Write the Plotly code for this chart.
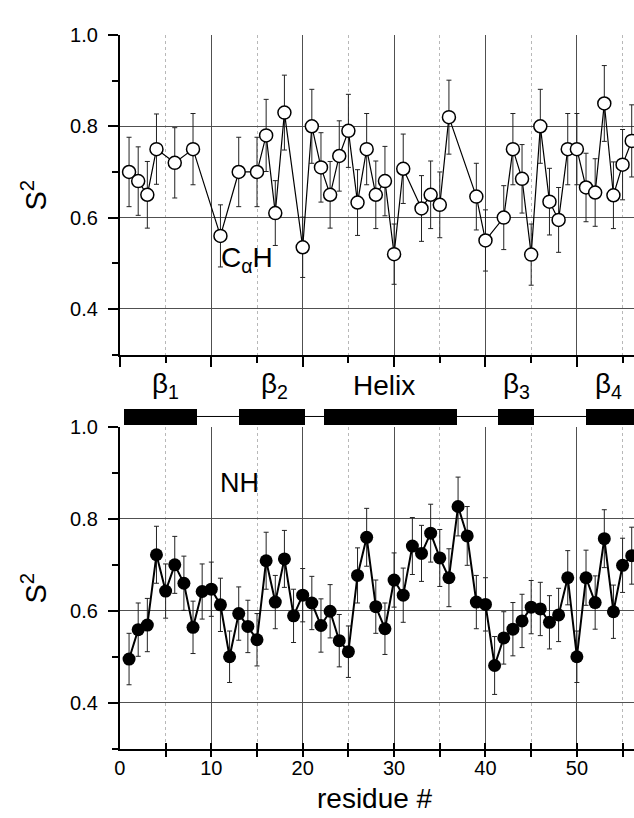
import plotly.graph_objects as go

# ---------------- data ----------------
# CαH order parameters (open circles, top panel)
res_ca = [1, 2, 3, 4, 6, 8, 11, 13, 15, 16, 17, 18, 20, 21, 22, 23, 24, 25, 26, 27,
          28, 29, 30, 31, 33, 34, 35, 36, 39, 40, 42, 43, 44, 45, 46, 47, 48, 49, 50,
          51, 52, 53, 54, 55, 56]
s2_ca = [0.70, 0.68, 0.65, 0.75, 0.72, 0.75, 0.56, 0.70, 0.70, 0.78, 0.61, 0.83,
         0.535, 0.80, 0.71, 0.65, 0.735, 0.79, 0.633, 0.75, 0.65, 0.68, 0.52, 0.707,
         0.62, 0.65, 0.628, 0.82, 0.646, 0.55, 0.60, 0.75, 0.685, 0.519, 0.80, 0.635,
         0.595, 0.75, 0.75, 0.666, 0.655, 0.85, 0.649, 0.716, 0.768]
err_ca = [0.076, 0.075, 0.073, 0.077, 0.077, 0.078, 0.068, 0.076, 0.076, 0.079, 0.071,
          0.082, 0.066, 0.081, 0.076, 0.073, 0.077, 0.080, 0.072, 0.078, 0.074, 0.076,
          0.066, 0.076, 0.072, 0.074, 0.072, 0.081, 0.073, 0.067, 0.070, 0.078, 0.075,
          0.067, 0.081, 0.073, 0.071, 0.078, 0.078, 0.075, 0.074, 0.083, 0.073, 0.077,
          0.079]

# NH order parameters (filled circles, bottom panel)
res_nh = list(range(1, 57))
s2_nh = [0.495, 0.559, 0.569, 0.722, 0.643, 0.700, 0.660, 0.564, 0.642, 0.647,
         0.613, 0.500, 0.594, 0.566, 0.537, 0.709, 0.619, 0.713, 0.589, 0.634,
         0.617, 0.568, 0.599, 0.535, 0.511, 0.677, 0.760, 0.609, 0.561, 0.667,
         0.634, 0.741, 0.725, 0.769, 0.715, 0.672, 0.827, 0.763, 0.619, 0.614,
         0.481, 0.541, 0.560, 0.578, 0.608, 0.604, 0.575, 0.591, 0.672, 0.500,
         0.672, 0.618, 0.757, 0.598, 0.699, 0.720]
err_nh = [0.056, 0.058, 0.058, 0.062, 0.059, 0.062, 0.059, 0.057, 0.060, 0.059,
          0.058, 0.056, 0.058, 0.057, 0.057, 0.062, 0.058, 0.062, 0.058, 0.058,
          0.058, 0.058, 0.058, 0.057, 0.056, 0.060, 0.063, 0.058, 0.056, 0.059,
          0.059, 0.062, 0.061, 0.063, 0.062, 0.063, 0.064, 0.064, 0.058, 0.058,
          0.063, 0.057, 0.058, 0.058, 0.058, 0.058, 0.058, 0.058, 0.059, 0.056,
          0.060, 0.058, 0.063, 0.058, 0.059, 0.062]

# secondary structure elements
ss_names = ["β<sub>1</sub>", "β<sub>2</sub>", "Helix", "β<sub>3</sub>", "β<sub>4</sub>"]
ss_start = [0.47, 13.0, 22.3, 41.4, 51.0]
ss_end = [8.42, 20.2, 36.9, 45.3, 58.0]
ss_label_pos = [5.0, 16.9, 28.9, 43.4, 53.5]

x_ticks = [0, 10, 20, 30, 40, 50]
y_ticks = [0.4, 0.6, 0.8, 1.0]

# ---------------- layout constants ----------------
W, H = 634, 818
FONT = "Liberation Sans, Arial, Helvetica, sans-serif"
x_range = [0, 56.25]
x_dom = [115 / W, 1.0]
top_dom = [1 - 348.3 / H, 1 - 24.3 / H]
bot_dom = [1 - 747.7 / H, 1 - 421.7 / H]
mid_dom = [1 - 421.7 / H, 1 - 348.3 / H]
mid_h = 421.7 - 348.3
bar_y = 421.7 - 411.0
bar_h = 16.6
lab_y = 421.7 - 380.0
TICKSIZE = 20

fig = go.Figure()

err_style = dict(type="data", color="#222222", thickness=1, width=2.5)

fig.add_trace(go.Scatter(
    x=res_ca, y=s2_ca, mode="lines+markers",
    error_y=dict(array=err_ca, **err_style),
    line=dict(color="black", width=1.2),
    marker=dict(symbol="circle", size=13, color="white",
                line=dict(color="black", width=1.5)),
    xaxis="x", yaxis="y", showlegend=False))

fig.add_trace(go.Scatter(
    x=res_nh, y=s2_nh, mode="lines+markers",
    error_y=dict(array=err_nh, **err_style),
    line=dict(color="black", width=2),
    marker=dict(symbol="circle", size=13, color="black",
                line=dict(color="black", width=0)),
    xaxis="x2", yaxis="y2", showlegend=False))

# secondary-structure strip
fig.add_trace(go.Scatter(
    x=[min(ss_start), max(ss_end)], y=[bar_y, bar_y], mode="lines",
    line=dict(color="black", width=1), xaxis="x3", yaxis="y3",
    showlegend=False, hoverinfo="skip"))
fig.add_trace(go.Bar(
    y=[bar_y] * len(ss_start), x=[e - s for s, e in zip(ss_start, ss_end)],
    base=ss_start, orientation="h", width=bar_h,
    marker=dict(color="black", line=dict(width=0)),
    xaxis="x3", yaxis="y3", showlegend=False))

# dummy trace for crossing-tick overlay axis
fig.add_trace(go.Scatter(x=[], y=[], xaxis="x4", yaxis="y2", showlegend=False))

grid_major = "#505050"
grid_minor = "#b8b8b8"

def xaxis_common(**kw):
    d = dict(domain=x_dom, range=x_range, tickmode="array", tickvals=x_ticks,
             showline=True, linecolor="black", linewidth=2,
             showgrid=True, gridcolor=grid_major, gridwidth=1,
             zeroline=False, tickcolor="black", tickwidth=1.5,
             tickfont=dict(family=FONT, size=TICKSIZE, color="black"),
             minor=dict(dtick=5, tick0=0, showgrid=True, gridcolor=grid_minor,
                        griddash="dot", gridwidth=1, ticks="outside",
                        ticklen=6, tickcolor="black", tickwidth=1.5))
    d.update(kw)
    return d

def yaxis_common(dom, anchor):
    return dict(domain=dom, range=[0.3, 1.0], anchor=anchor,
                tickmode="array", tickvals=y_ticks,
                ticktext=[f"{v:.1f}" for v in y_ticks],
                showline=True, linecolor="black", linewidth=2,
                showgrid=True, gridcolor=grid_major, gridwidth=1.2,
                zeroline=False, ticks="outside", ticklen=10,
                tickcolor="black", tickwidth=1.5, ticklabelstandoff=6,
                tickfont=dict(family=FONT, size=TICKSIZE, color="black"),
                minor=dict(dtick=0.1, tick0=0.3, ticks="outside", ticklen=6,
                           tickcolor="black", tickwidth=1.5, showgrid=False))

fig.update_layout(
    width=W, height=H, margin=dict(l=0, r=0, t=0, b=0),
    paper_bgcolor="white", plot_bgcolor="white",
    font=dict(family=FONT, color="black"),
    showlegend=False, bargap=0,
    xaxis=xaxis_common(anchor="y", showticklabels=False, ticks="outside", ticklen=10),
    yaxis=yaxis_common(top_dom, "x"),
    xaxis2=xaxis_common(anchor="y2", showticklabels=True, ticks="inside", ticklen=6),
    yaxis2=yaxis_common(bot_dom, "x2"),
    xaxis3=dict(domain=x_dom, range=x_range, anchor="y3", visible=False),
    yaxis3=dict(domain=mid_dom, range=[0, mid_h], anchor="x3", visible=False),
    xaxis4=dict(overlaying="x2", anchor="y2", range=x_range, tickmode="linear",
                tick0=5, dtick=10, ticks="inside", ticklen=6, tickwidth=1.5,
                tickcolor="black", showgrid=False, showline=False,
                showticklabels=False, zeroline=False),
)

annotations = []
for name, xp in zip(ss_names, ss_label_pos):
    annotations.append(dict(x=xp, y=lab_y, xref="x3", yref="y3", text=name,
                            showarrow=False, xanchor="center", yanchor="middle",
                            font=dict(family=FONT, size=28, color="black")))
annotations += [
    dict(x=10.8, y=0.508, xref="x", yref="y", text="C<sub>α</sub>H",
         showarrow=False, xanchor="left", yanchor="middle",
         font=dict(family=FONT, size=28, color="black")),
    dict(x=10.7, y=0.879, xref="x2", yref="y2", text="NH",
         showarrow=False, xanchor="left", yanchor="middle",
         font=dict(family=FONT, size=27, color="black")),
    dict(x=28 / W, y=(top_dom[0] + top_dom[1]) / 2, xref="paper", yref="paper",
         text="S<sup>2</sup>", textangle=-90, showarrow=False,
         xanchor="center", yanchor="middle",
         font=dict(family=FONT, size=29, color="black")),
    dict(x=28 / W, y=(bot_dom[0] + bot_dom[1]) / 2, xref="paper", yref="paper",
         text="S<sup>2</sup>", textangle=-90, showarrow=False,
         xanchor="center", yanchor="middle",
         font=dict(family=FONT, size=29, color="black")),
    dict(x=373 / W, y=1 - 798 / H, xref="paper", yref="paper",
         text="residue #", showarrow=False, xanchor="center", yanchor="middle",
         font=dict(family=FONT, size=28, color="black")),
]
fig.update_layout(annotations=annotations)

fig.write_html("out.html")
